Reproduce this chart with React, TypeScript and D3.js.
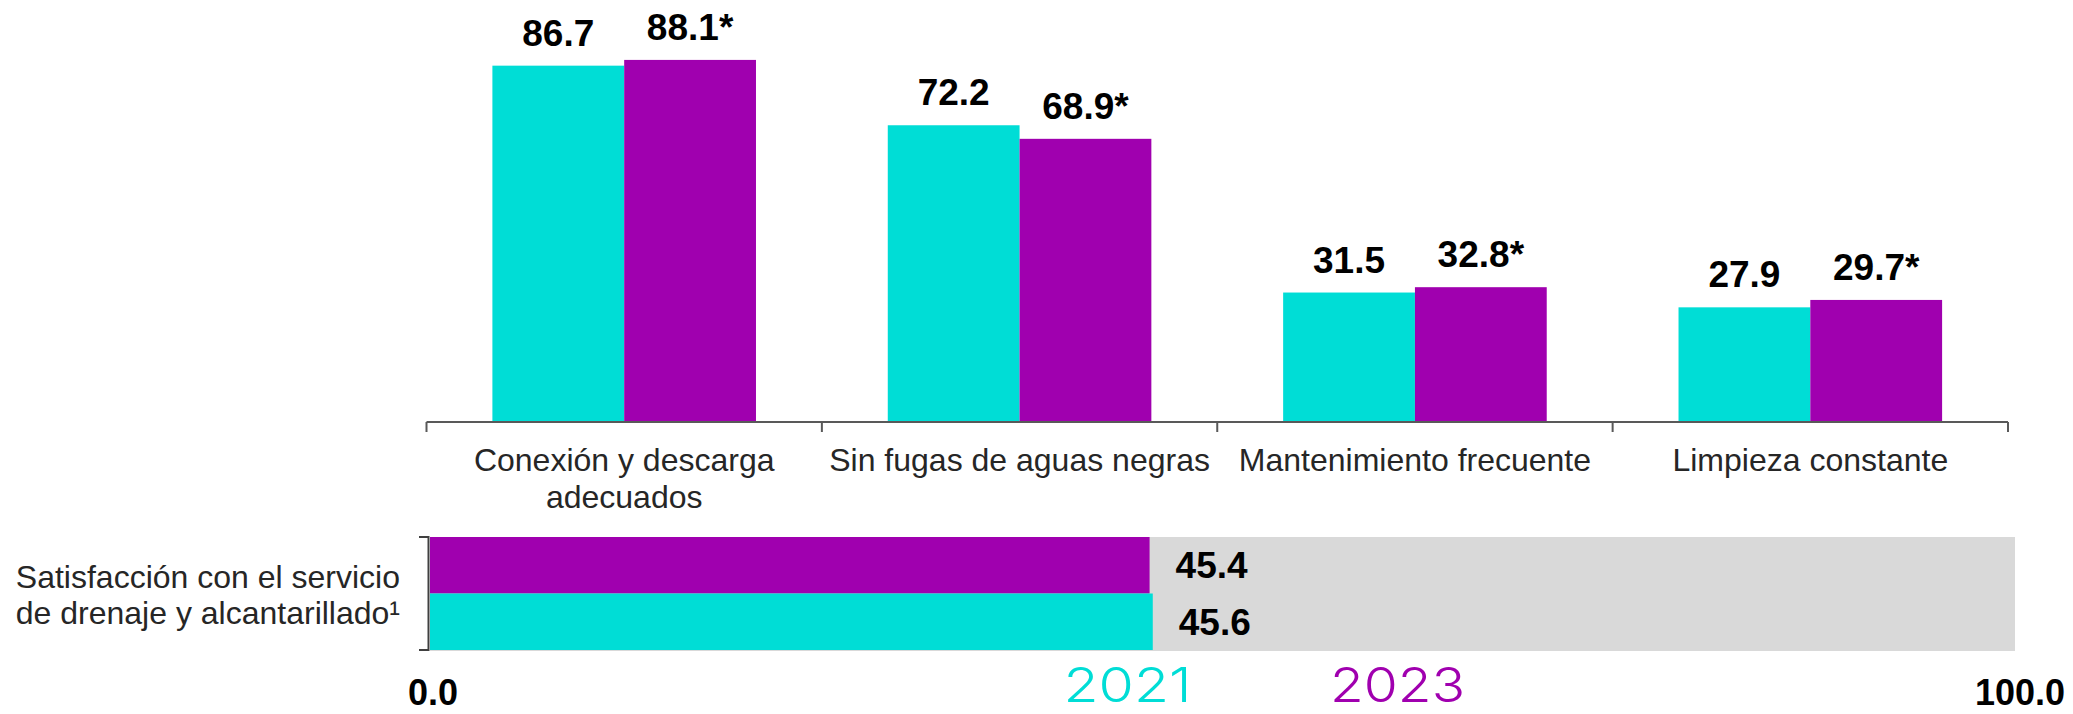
import React from "react";
import {scaleBand, scaleLinear} from "d3";

const width = 2073;
const height = 714;

const categories = [
    ["Conexión y descarga", "adecuados"],
    ["Sin fugas de aguas negras"],
    ["Mantenimiento frecuente"],
    ["Limpieza constante"],
];
const values2021 = [86.7, 72.2, 31.5, 27.9];
const values2023 = [88.1, 68.9, 32.8, 29.7];
const marked2023 = [true, true, true, true];

const satisfactionLabel = ["Satisfacción con el servicio", "de drenaje y alcantarillado¹"];
const satisfactionYears = ["2023", "2021"];
const satisfactionValues = [45.4, 45.6];
const years = ["2021", "2023"];

const cyan = "#00DDD6";
const magenta = "#A000AF";
const font = "'Liberation Sans', Arial, sans-serif";

function App() {
    const catKeys = categories.map((c) => c.join(" "));

    const x0 = scaleBand().domain(catKeys).range([426.5, 2008]).paddingInner(1 / 3).paddingOuter(1 / 6);
    const x1 = scaleBand().domain(years).range([0, x0.bandwidth()]);
    const y = scaleLinear().domain([0, 100]).range([422, 11]);

    const hx = scaleLinear().domain([0, 100]).range([430, 2015]);
    const hy = scaleBand().domain(satisfactionYears).range([537, 650]);

    const step = x0.step();
    const tickXs = catKeys.map((k) => (x0(k) as number) - step / 6).concat([(x0(catKeys[3]) as number) + x0.bandwidth() + step / 6]);

    return (
        <div style={{position: "fixed", left: 0, top: 0}}>
            <svg width={width} height={height} style={{display: "block", background: "#fff"}}>
                {/* grouped bars */}
                {catKeys.map((k, i) => {
                    const gx = x0(k) as number;
                    const vals = [values2021[i], values2023[i]];
                    return (
                        <g key={k} transform={`translate(${gx},0)`}>
                            {years.map((yr, j) => (
                                <rect key={yr} x={x1(yr)} y={y(vals[j])} width={x1.bandwidth()}
                                      height={y(0) - y(vals[j])} fill={j === 0 ? cyan : magenta}/>
                            ))}
                            {years.map((yr, j) => (
                                <text key={"t" + yr} x={(x1(yr) as number) + x1.bandwidth() / 2} y={y(vals[j]) - 20}
                                      textAnchor="middle" fontFamily={font} fontWeight="bold" fontSize={37}
                                      fill="#000">
                                    {vals[j].toFixed(1)}{j === 1 && marked2023[i] ? "*" : ""}
                                </text>
                            ))}
                            {categories[i].map((line, li) => (
                                <text key={"c" + li} x={x0.bandwidth() / 2} y={471 + li * 37} textAnchor="middle"
                                      fontFamily={font} fontSize={32} fill="#262626">{line}</text>
                            ))}
                        </g>
                    );
                })}
                <line x1={426.5} x2={2008} y1={y(0)} y2={y(0)} stroke="#595959" strokeWidth={2}/>
                {tickXs.map((t, i) => (
                    <line key={i} x1={t} x2={t} y1={y(0)} y2={y(0) + 10} stroke="#595959" strokeWidth={2}/>
                ))}

                {/* satisfaction bar */}
                <rect x={hx(0)} y={hy("2023")} width={hx(100) - hx(0)} height={hy.bandwidth() * 2 + 1} fill="#D9D9D9"/>
                {satisfactionYears.map((yr, i) => (
                    <g key={yr}>
                        <rect x={hx(0)} y={hy(yr)} width={hx(satisfactionValues[i]) - hx(0)} height={hy.bandwidth()}
                              fill={yr === "2021" ? cyan : magenta}/>
                        <text x={hx(satisfactionValues[i]) + 26} y={(hy(yr) as number) + hy.bandwidth() / 2 + 13}
                              fontFamily={font} fontWeight="bold" fontSize={37} fill="#000">
                            {satisfactionValues[i].toFixed(1)}
                        </text>
                    </g>
                ))}
                <path d="M419,537 H428.5 V650 H419" fill="none" stroke="#404040" strokeWidth={2}/>
                {satisfactionLabel.map((line, i) => (
                    <text key={i} x={400} y={588 + i * 36} textAnchor="end" fontFamily={font} fontSize={32}
                          fill="#262626">{line}</text>
                ))}

                <text x={hx(0) + 3} y={705} textAnchor="middle" fontFamily={font} fontWeight="bold" fontSize={36}
                      fill="#000">0.0</text>
                <text x={hx(100) + 5} y={705} textAnchor="middle" fontFamily={font} fontWeight="bold" fontSize={36}
                      fill="#000">100.0</text>

                {years.map((yr, i) => (
                    <text key={yr} x={i === 0 ? 1127.5 : 1397.5} y={702} textAnchor="middle"
                          fontFamily="Inter, 'Open Sans', sans-serif" fontWeight={300} fontSize={48}
                          textLength={i === 0 ? 128 : 135} lengthAdjust="spacingAndGlyphs"
                          fill={i === 0 ? cyan : magenta}>{yr}</text>
                ))}
            </svg>
        </div>
    );
}

export default App;
